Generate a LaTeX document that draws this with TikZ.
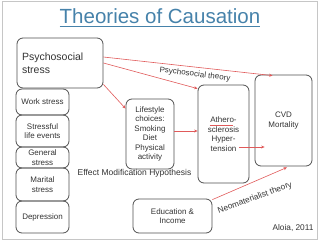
\documentclass[tikz,border=0pt]{standalone}
\usepackage{fontspec}
\setmainfont{Liberation Sans}
\usetikzlibrary{arrows.meta,calc}
\definecolor{titleblue}{HTML}{4682AA}
\definecolor{arrred}{HTML}{E05A5A}
\definecolor{boxgray}{HTML}{505050}
\definecolor{txt}{HTML}{333333}
\tikzset{
  box/.style={draw=boxgray,line width=0.8pt,rounded corners=6pt,inner sep=0pt,
    text=txt,align=center,font=\fontsize{8}{9.5}\selectfont},
  conn/.style={draw=arrred,line width=0.6pt,-{Stealth[length=3.5pt,width=3pt]}},
  lbl/.style={text=txt,inner sep=0pt,font=\fontsize{8}{9.5}\selectfont}
}
\begin{document}
\begin{tikzpicture}[x=1pt,y=-1pt]
\useasboundingbox (0,0) rectangle (320,241);
\draw[gray!45,line width=0.8pt] (2,1.5) rectangle (317.5,239.5);
% title
\node[anchor=base,inner sep=0pt,text=titleblue,font=\fontsize{20.5}{24}\selectfont] (title) at (160,23) {Theories of Causation};
\draw[titleblue,line width=0.8pt] ([yshift=-3pt]title.base west) -- ([yshift=-3pt]title.base east);
% boxes
\node[box,minimum width=86pt,minimum height=50pt,text width=76pt,align=left,font=\fontsize{10.5}{13}\selectfont] (psy) at (60,63) {Psychosocial\\stress};
\node[box,minimum width=53pt,minimum height=26pt] (work) at (42.5,102) {Work stress};
\node[box,minimum width=53pt,minimum height=32pt] (slife) at (42.5,131) {Stressful\\life events};
\node[box,minimum width=53pt,minimum height=21pt] (gen) at (42.5,157.5) {General\\stress};
\node[box,minimum width=53pt,minimum height=33pt] (mar) at (42.5,184.5) {Marital\\stress};
\node[box,minimum width=53pt,minimum height=32pt] (dep) at (42.5,217) {Depression};
\node[box,minimum width=48pt,minimum height=70pt] (lifestyle) at (150,134) {Lifestyle\\choices:\\Smoking\\Diet\\Physical\\activity};
\node[box,minimum width=51pt,minimum height=98pt] (athero) at (223.5,134) {Athero-\\sclerosis\\Hyper-\\tension};
\node[box,minimum width=57pt,minimum height=91pt] (cvd) at (283.5,120.5) {CVD\\Mortality};
\node[box,minimum width=79pt,minimum height=34pt] (edu) at (172.5,216) {Education \&\\Income};
% spell-check underline
\draw[arrred,line width=0.5pt] (209.5,125.5) -- (232.5,125.5);
% connectors
\draw[conn] ([yshift=6pt]psy.east) -- ([xshift=18pt,yshift=-1pt]cvd.north west);
\draw[conn] (psy.east) -- ([yshift=-4pt]athero.north west);
\draw[conn] ([yshift=4pt]psy.south east) -- ([yshift=-10pt]lifestyle.north west);
\draw[conn] ([yshift=3pt]lifestyle.east) -- ([yshift=3pt]athero.west);
\draw[conn] ([xshift=15.5pt,yshift=-13pt]athero.center) -- ([xshift=10pt,yshift=-26.5pt]cvd.west);
\draw[conn] ([yshift=-1pt]edu.north east) -- ([xshift=3.5pt,yshift=-1pt]cvd.south);
% labels
\node[lbl,rotate=-7] (lpsy) at (195,74.5) {Psychosocial theory};
\node[lbl,font=\fontsize{8.5}{10}\selectfont] (lem) at (134.5,173) {Effect Modification Hypothesis};
\node[lbl,rotate=20,font=\fontsize{8.3}{10}\selectfont] (lneo) at (255,198) {Neomaterialist theory};
\node[lbl,font=\fontsize{8.3}{10}\selectfont] (cite) at (293,228) {Aloia, 2011};
\end{tikzpicture}
\end{document}
